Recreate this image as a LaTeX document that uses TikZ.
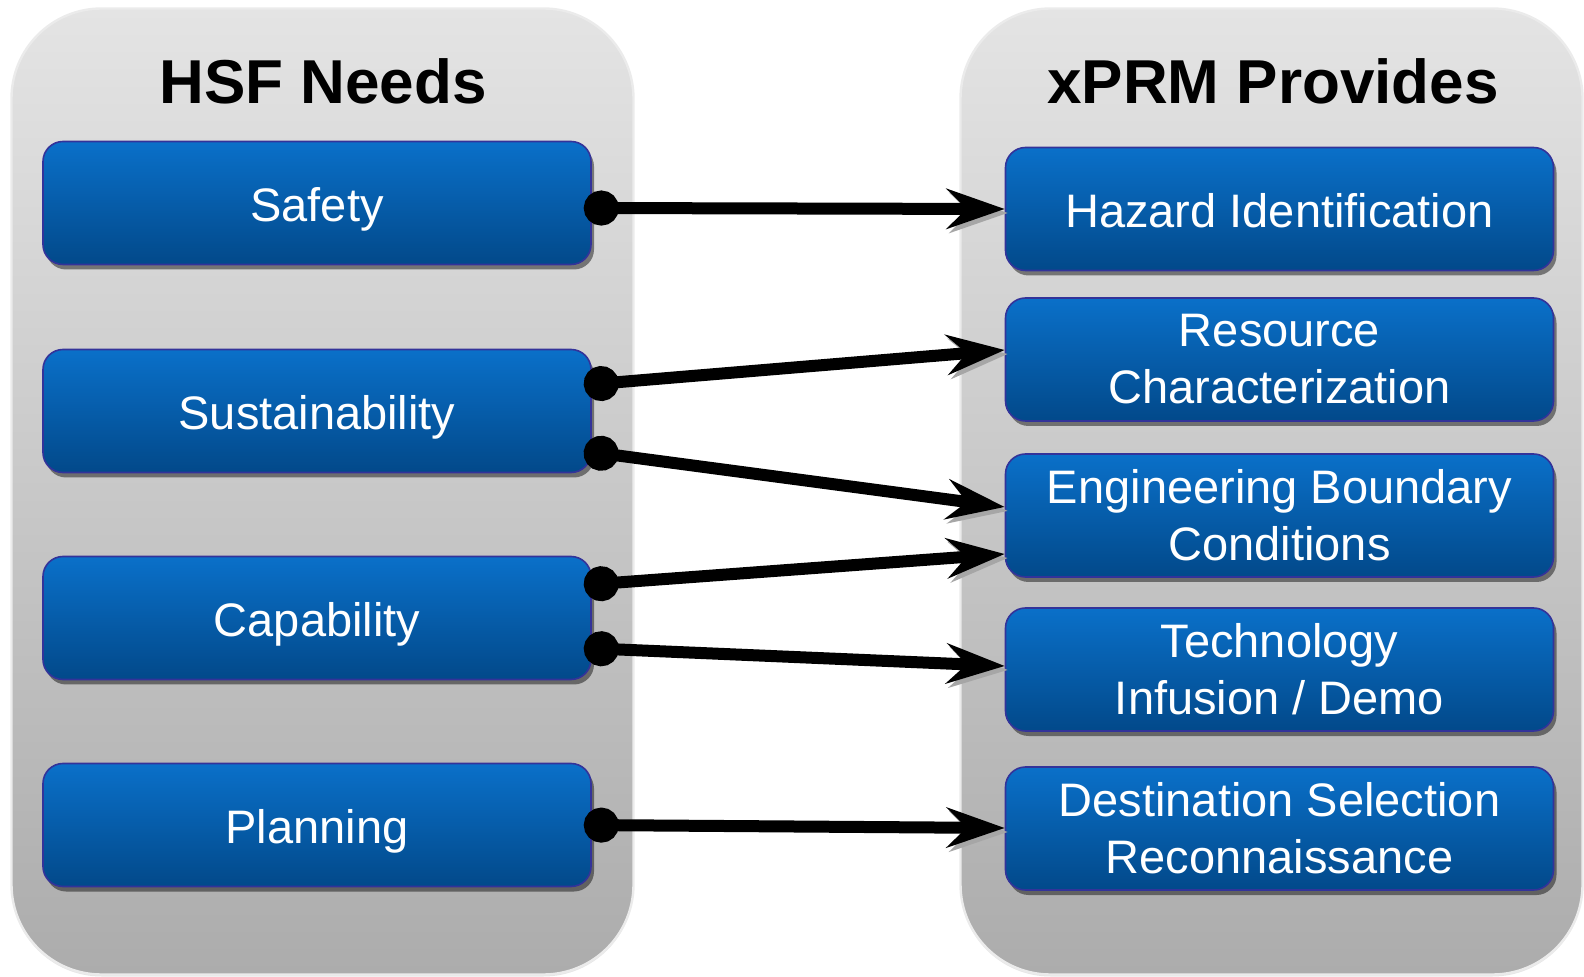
\documentclass[tikz,border=0pt]{standalone}
\usepackage{fontspec}
\setmainfont{Liberation Sans}
\usetikzlibrary{backgrounds,shadows,arrows.meta}

\definecolor{boxtop}{HTML}{0A70C9}
\definecolor{boxbot}{HTML}{02498A}
\definecolor{boxline}{HTML}{33339A}
\definecolor{paneltop}{HTML}{E4E4E4}
\definecolor{panelbot}{HTML}{ACACAC}

\begin{document}
\begin{tikzpicture}[x=0.5pt,y=-0.5pt]
    % `panel' is the grey column behind each side.
    % `item' is used for the blue boxes, `title' for the headings.
    % `link' is used for the arrows from a need to what is provided.
    \tikzstyle{panel} = [draw=white!92!black,line width=1.2pt,top color=paneltop,bottom color=panelbot,rounded corners=45pt,minimum width=311pt,minimum height=483pt,drop shadow={shadow xshift=0pt,shadow yshift=-1pt,opacity=.2}]
    \tikzstyle{item} = [draw=boxline,line width=0.8pt,top color=boxtop,bottom color=boxbot,rounded corners=10pt,minimum width=274pt,minimum height=61.5pt,text=white,align=center,font=\fontsize{23.5}{28.5}\selectfont,drop shadow={shadow xshift=1.5pt,shadow yshift=-2.5pt,fill=black,opacity=.45}]
    \tikzstyle{oneline} = [item,text height=23.5pt,text depth=5pt]
    \tikzstyle{title} = [font=\fontsize{31}{36}\selectfont\bfseries]
    \tikzstyle{link} = [line width=6pt,{Circle[length=17.5pt]}-{Stealth[length=29pt,width=20pt,inset=10pt]},preaction={draw=black!35,transform canvas={shift={(1.5pt,-2pt)}}}]
    %
    \useasboundingbox (0,0) rectangle (1584,977);
    % Needs on the left.
    \node[title] (needs) at (323,81) {HSF Needs};
    \node[oneline] (safety) at (317,203) {Safety};
    \node[oneline] (sustain) at (317,411) {Sustainability};
    \node[oneline] (capab) at (317,618) {Capability};
    \node[oneline] (plan) at (317,825) {Planning};
    % What xPRM provides on the right.
    \node[title] (provides) at (1273,81) {xPRM Provides};
    \node[oneline] (hazard) at (1279.5,209) {Hazard Identification};
    \node[item] (resource) at (1279.5,359.5) {Resource\\Characterization};
    \node[item] (boundary) at (1279.5,515.5) {Engineering Boundary\\Conditions};
    \node[item] (techno) at (1279.5,669.5) {Technology\\Infusion / Demo};
    \node[item] (destin) at (1279.5,828.5) {Destination Selection\\Reconnaissance};
    %
    \begin{pgfonlayer}{background}
        % Draw grey columns.
        \node[panel] (left) at (322.5,491.5) {};
        \node[panel] (right) at (1271.5,491.5) {};
    \end{pgfonlayer}
    % Draw arrows.
    \draw[link] ([xshift=-4pt,yshift=-2.5pt]safety.east) -- (hazard.west);
    \draw[link] ([xshift=-4pt,yshift=13pt]sustain.east) -- ([yshift=4.75pt]resource.west);
    \draw[link] ([xshift=-4pt,yshift=-20pt]sustain.east) -- ([yshift=4.25pt]boundary.west);
    \draw[link] ([xshift=-4pt,yshift=16.5pt]capab.east) -- ([yshift=-19.25pt]boundary.west);
    \draw[link] ([xshift=-4pt,yshift=-15pt]capab.east) -- ([yshift=1.75pt]techno.west);
    \draw[link] ([xshift=-4pt]plan.east) -- ([yshift=0.25pt]destin.west);
\end{tikzpicture}
\end{document}
